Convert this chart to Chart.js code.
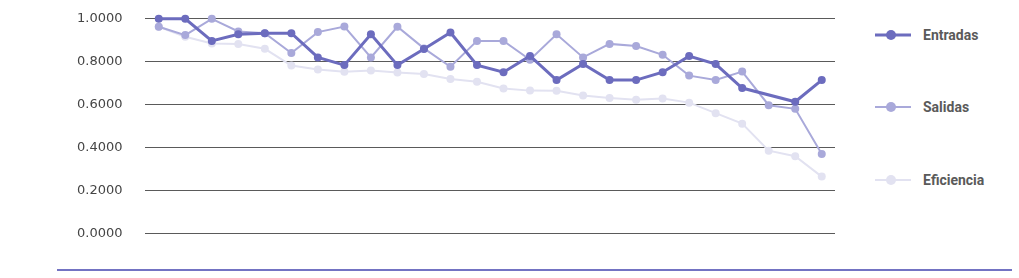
<!DOCTYPE html>
<html>
<head>
<meta charset="utf-8">
<script src="https://cdn.jsdelivr.net/npm/chart.js@4/dist/chart.umd.min.js"></script>
<style>
  html, body { margin: 0; padding: 0; background: #fff; }
  #wrap { position: relative; width: 1019px; height: 278px; overflow: hidden; }
  #c { position: absolute; left: 0; top: -12px; }
  #legend { position: absolute; left: 875px; top: 0; font: bold 14px Roboto, sans-serif; color: #5a5a5a; }
  .item { position: absolute; left: 0; display: flex; align-items: center; white-space: nowrap; height: 16px; }
  .item svg { margin-right: 12px; }
  #rule { position: absolute; left: 57px; top: 269px; width: 955px; height: 2px; background: #7373c3; }
</style>
</head>
<body>
<div id="wrap">
  <canvas id="c" width="850" height="276"></canvas>
  <div id="legend"></div>
  <div id="rule"></div>
</div>
<script>
const LABELS = Array.from({ length: 26 }, (_, i) => String(i + 1));
const ENTRADAS = [1.0, 1.0, 0.897, 0.928, 0.933, 0.933, 0.82, 0.784, 0.928, 0.784, 0.859, 0.936, 0.784, 0.751, 0.827, 0.714, 0.789, 0.714, 0.714, 0.751, 0.826, 0.789, 0.677, null, 0.613, 0.714];
const SALIDAS = [0.963, 0.924, 1.0, 0.941, 0.933, 0.84, 0.938, 0.964, 0.82, 0.963, 0.862, 0.776, 0.897, 0.897, 0.809, 0.928, 0.82, 0.883, 0.873, 0.832, 0.735, 0.715, 0.754, 0.597, 0.58, 0.369];
const EFICIENCIA = [0.963, 0.916, 0.885, 0.882, 0.86, 0.782, 0.763, 0.753, 0.759, 0.749, 0.743, 0.719, 0.706, 0.675, 0.665, 0.664, 0.642, 0.631, 0.623, 0.628, 0.609, 0.56, 0.511, 0.385, 0.359, 0.264];
const Y_TICKS = [0, 0.2, 0.4, 0.6, 0.8, 1.0];

const C_ENT = "#6c6cbe", C_SAL = "#a9a9da", C_EFI = "#e2e2f1";
const GRID = "#5a5a5a", TXT = "#454545";

const series = [
  { label: "Entradas", data: ENTRADAS, color: C_ENT, width: 3 },
  { label: "Salidas", data: SALIDAS, color: C_SAL, width: 2 },
  { label: "Eficiencia", data: EFICIENCIA, color: C_EFI, width: 2 },
];

new Chart(document.getElementById("c"), {
  type: "line",
  data: {
    labels: LABELS,
    datasets: series.map((s) => ({
      label: s.label, data: s.data,
      borderColor: s.color, backgroundColor: s.color,
      pointBackgroundColor: s.color, pointBorderColor: s.color,
      borderWidth: s.width, pointRadius: 4, pointBorderWidth: 0,
      tension: 0, spanGaps: true, clip: false,
    })),
  },
  options: {
    responsive: false, animation: false, devicePixelRatio: 1,
    layout: { padding: { top: 6, bottom: 0, left: 54, right: 15 } },
    plugins: { legend: { display: false }, tooltip: { enabled: false } },
    scales: {
      x: { display: false, offset: true },
      y: {
        min: 0, max: 1,
        afterBuildTicks: (ax) => { ax.ticks = Y_TICKS.map((v) => ({ value: v })); },
        grid: { color: GRID, lineWidth: 1, drawTicks: false },
        border: { display: false },
        ticks: {
          padding: 23, color: TXT,
          font: { family: "DejaVu Sans", size: 13 },
          callback: (v) => Number(v).toFixed(4),
        },
      },
    },
  },
});

// legend, spread down the right side
const LEGEND_Y = [35, 107, 180];
document.getElementById("legend").innerHTML = series.map((s, i) => `
  <div class="item" style="top:${LEGEND_Y[i] - 8}px">
    <svg width="36" height="12"><line x1="0" y1="6" x2="36" y2="6" stroke="${s.color}" stroke-width="${s.width}"/><circle cx="16" cy="6" r="5" fill="${s.color}"/></svg>
    <span>${s.label}</span>
  </div>`).join("");
</script>
</body>
</html>
